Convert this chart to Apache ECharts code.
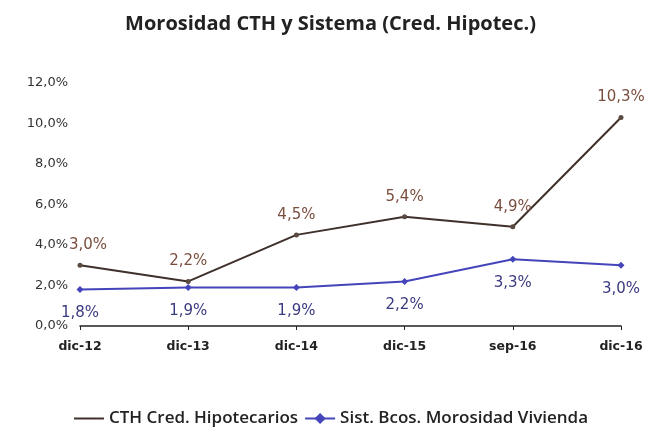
<!DOCTYPE html>
<html>
<head>
<meta charset="utf-8">
<script src="https://cdn.jsdelivr.net/npm/echarts@6/dist/echarts.min.js"></script>
<style>
  html, body { margin: 0; padding: 0; background: #fff; }
  #chart { width: 661px; height: 432px; }
</style>
</head>
<body>
<div id="chart"></div>
<script>
// categorias y valores
const categories = ['dic-12', 'dic-13', 'dic-14', 'dic-15', 'sep-16', 'dic-16']
const cthValues = [3.0, 2.2, 4.5, 5.4, 4.9, 10.3]
const sistValues = [1.8, 1.9, 1.9, 2.2, 3.3, 3.0]

const fmt = (v) => v.toFixed(1).replace('.', ',') + '%'

const chart = echarts.init(document.getElementById('chart'))

const option = {
  backgroundColor: '#fff',
  animation: false,
  title: {
    text: 'Morosidad CTH y Sistema (Cred. Hipotec.)',
    left: 'center',
    top: 9,
    textStyle: {
      fontFamily: 'Open Sans',
      fontWeight: 'bold',
      fontSize: 20,
      color: '#222'
    }
  },
  legend: {
    bottom: 0,
    left: 'center',
    itemWidth: 30,
    itemGap: 6,
    textStyle: {
      fontFamily: 'Open Sans',
      fontWeight: 600,
      fontSize: 17,
      color: '#222'
    },
    data: [
      { name: 'CTH Cred. Hipotecarios', itemStyle: { opacity: 0 } },
      { name: 'Sist. Bcos. Morosidad Vivienda' }
    ]
  },
  grid: {
    left: 80,
    right: 40,
    top: 83,
    bottom: 106
  },
  xAxis: {
    type: 'category',
    data: categories,
    boundaryGap: false,
    axisLine: { lineStyle: { color: '#222', width: 1.5 } },
    axisTick: { show: true, length: 4, lineStyle: { color: '#222' } },
    axisLabel: {
      fontFamily: 'DejaVu Sans',
      fontWeight: 'bold',
      fontSize: 12.5,
      color: '#222',
      margin: 14
    }
  },
  yAxis: {
    type: 'value',
    min: 0,
    max: 12,
    interval: 2,
    axisLine: { show: false },
    axisTick: { show: false },
    splitLine: { show: false },
    axisLabel: {
      fontFamily: 'DejaVu Sans',
      fontSize: 13,
      color: '#333',
      margin: 12,
      formatter: (v) => v.toFixed(1).replace('.', ',') + '%'
    }
  },
  series: [
    {
      name: 'CTH Cred. Hipotecarios',
      type: 'line',
      data: cthValues,
      symbol: 'circle',
      symbolSize: 5,
      lineStyle: { color: '#3e302a', width: 2 },
      itemStyle: { color: '#5a4a42' },
      label: {
        show: true,
        position: 'top',
        distance: 10,
        fontFamily: 'DejaVu Sans',
        fontSize: 15,
        color: '#7a4e3e',
        formatter: (p) => fmt(p.value)
      },
      labelLayout: (params) => params.dataIndex === 0 ? { dx: 8 } : {}
    },
    {
      name: 'Sist. Bcos. Morosidad Vivienda',
      type: 'line',
      data: sistValues,
      symbol: 'diamond',
      symbolSize: 7,
      lineStyle: { color: '#4444bb', width: 2 },
      itemStyle: { color: '#4444bb' },
      label: {
        show: true,
        position: 'bottom',
        distance: 13,
        fontFamily: 'DejaVu Sans',
        fontSize: 15,
        color: '#3a3a80',
        formatter: (p) => fmt(p.value)
      }
    }
  ]
}

chart.setOption(option)
</script>
</body>
</html>
